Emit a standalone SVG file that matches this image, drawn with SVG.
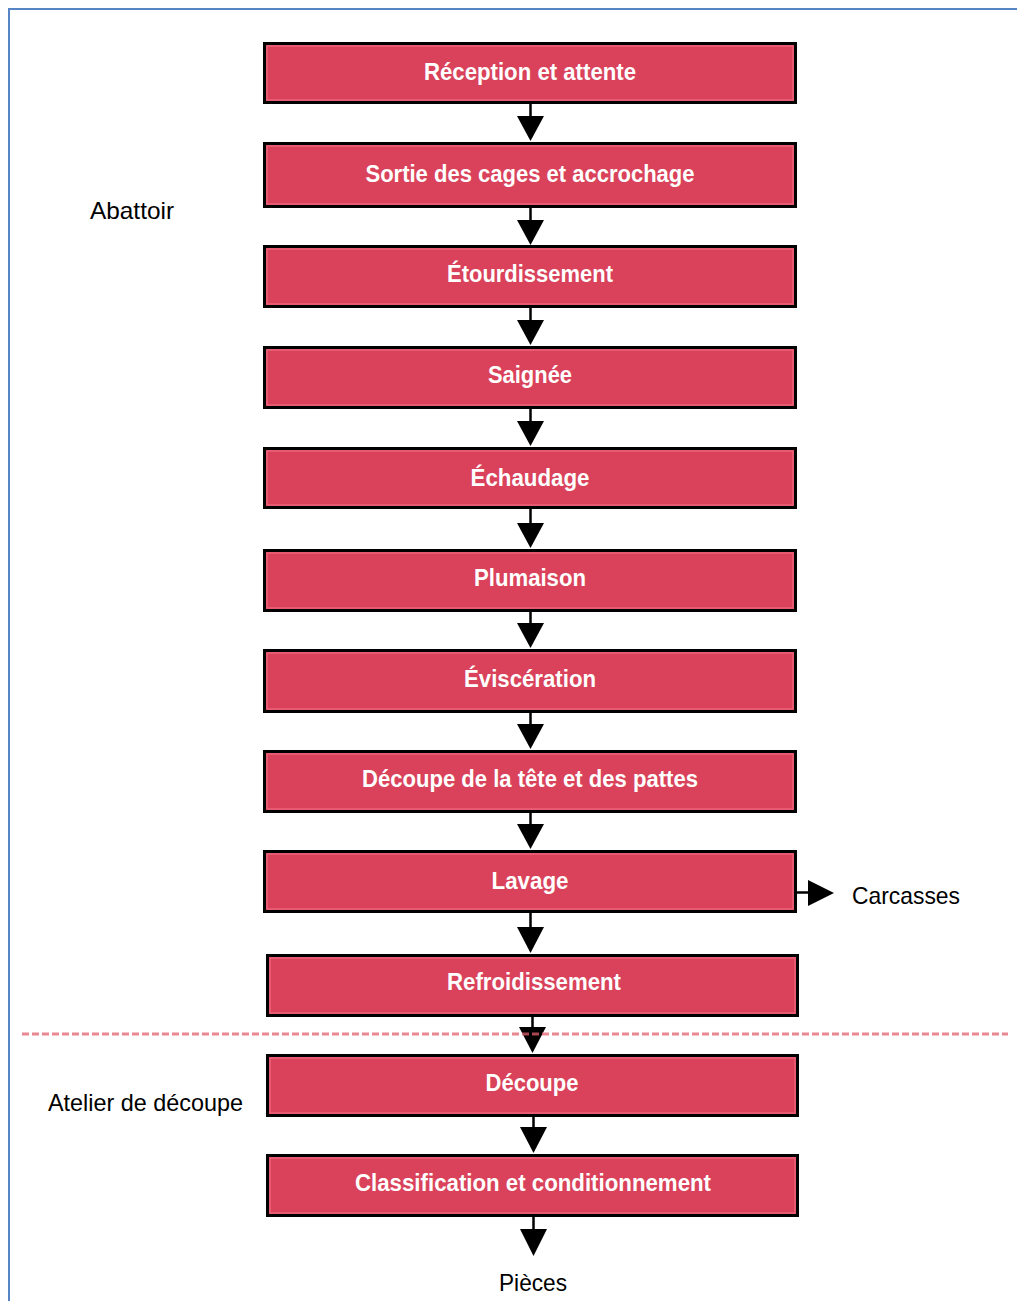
<svg xmlns="http://www.w3.org/2000/svg" width="1017" height="1301" viewBox="0 0 1017 1301">
  <style>
    .box { fill: #D9425A; stroke: #000; stroke-width: 3; }
    .inner { fill: none; stroke: #EB6379; stroke-width: 1.5; }
    .lbl { font-family: "Liberation Sans", Arial, sans-serif; font-weight: bold; font-size: 23px; fill: #fff; text-anchor: middle; }
    .side { font-family: "Liberation Sans", Arial, sans-serif; font-size: 24px; fill: #000; }
    .flow { stroke: #000; stroke-width: 2.5; fill: none; }
    .head { fill: #000; }
  </style>

  <rect x="0" y="0" width="1017" height="1301" fill="#fff"/>
  <!-- page frame -->
  <rect x="9" y="9" width="1030" height="1320" fill="none" stroke="#5685C6" stroke-width="2"/>

  <!-- connectors -->
  <g id="connectors">
    <path class="flow" d="M530.5 103 V118"/>
    <polygon class="head" points="517,116 544,116 530.5,141"/>
    <path class="flow" d="M530.5 207 V222"/>
    <polygon class="head" points="517,220 544,220 530.5,245"/>
    <path class="flow" d="M530.5 307 V322"/>
    <polygon class="head" points="517,320 544,320 530.5,345"/>
    <path class="flow" d="M530.5 408 V423"/>
    <polygon class="head" points="517,421 544,421 530.5,446"/>
    <path class="flow" d="M530.5 508 V525"/>
    <polygon class="head" points="517,523 544,523 530.5,548"/>
    <path class="flow" d="M530.5 611 V625"/>
    <polygon class="head" points="517,623 544,623 530.5,648"/>
    <path class="flow" d="M530.5 712 V726"/>
    <polygon class="head" points="517,724 544,724 530.5,749"/>
    <path class="flow" d="M530.5 812 V826"/>
    <polygon class="head" points="517,824 544,824 530.5,849"/>
    <path class="flow" d="M530.5 912 V930"/>
    <polygon class="head" points="517,927 544,927 530.5,953"/>
    <path class="flow" d="M532.5 1016 V1030"/>
    <polygon class="head" points="519,1027 546,1027 532.5,1053"/>
    <path class="flow" d="M533.5 1116 V1130"/>
    <polygon class="head" points="520,1127 547,1127 533.5,1153"/>
    <path class="flow" d="M533.5 1216 V1232"/>
    <polygon class="head" points="520,1229 547,1229 533.5,1256"/>
    <path class="flow" d="M796 892.5 H810"/>
    <polygon class="head" points="808,880 808,906 834,893"/>
  </g>

  <!-- boundary between slaughterhouse and cutting room -->
  <line x1="22" y1="1034" x2="1008" y2="1034" stroke="#E0606F" stroke-opacity="0.75" stroke-width="3" stroke-dasharray="7 3"/>

  <g id="n1">
    <rect class="box" x="264.5" y="43.5" width="531" height="59"/>
    <rect class="inner" x="267" y="46" width="526" height="54"/>
    <text class="lbl" x="530" y="80" textLength="212" lengthAdjust="spacingAndGlyphs">Réception et attente</text>
  </g>
  <g id="n2">
    <rect class="box" x="264.5" y="143.5" width="531" height="63"/>
    <rect class="inner" x="267" y="146" width="526" height="58"/>
    <text class="lbl" x="530" y="182" textLength="329" lengthAdjust="spacingAndGlyphs">Sortie des cages et accrochage</text>
  </g>
  <g id="n3">
    <rect class="box" x="264.5" y="246.5" width="531" height="60"/>
    <rect class="inner" x="267" y="249" width="526" height="55"/>
    <text class="lbl" x="530" y="282" textLength="166" lengthAdjust="spacingAndGlyphs">Étourdissement</text>
  </g>
  <g id="n4">
    <rect class="box" x="264.5" y="347.5" width="531" height="60"/>
    <rect class="inner" x="267" y="350" width="526" height="55"/>
    <text class="lbl" x="530" y="383" textLength="84" lengthAdjust="spacingAndGlyphs">Saignée</text>
  </g>
  <g id="n5">
    <rect class="box" x="264.5" y="448.5" width="531" height="59"/>
    <rect class="inner" x="267" y="451" width="526" height="54"/>
    <text class="lbl" x="530" y="486" textLength="119" lengthAdjust="spacingAndGlyphs">Échaudage</text>
  </g>
  <g id="n6">
    <rect class="box" x="264.5" y="550.5" width="531" height="60"/>
    <rect class="inner" x="267" y="553" width="526" height="55"/>
    <text class="lbl" x="530" y="586" textLength="112" lengthAdjust="spacingAndGlyphs">Plumaison</text>
  </g>
  <g id="n7">
    <rect class="box" x="264.5" y="650.5" width="531" height="61"/>
    <rect class="inner" x="267" y="653" width="526" height="56"/>
    <text class="lbl" x="530" y="687" textLength="132" lengthAdjust="spacingAndGlyphs">Éviscération</text>
  </g>
  <g id="n8">
    <rect class="box" x="264.5" y="751.5" width="531" height="60"/>
    <rect class="inner" x="267" y="754" width="526" height="55"/>
    <text class="lbl" x="530" y="787" textLength="336" lengthAdjust="spacingAndGlyphs">Découpe de la tête et des pattes</text>
  </g>
  <g id="n9">
    <rect class="box" x="264.5" y="851.5" width="531" height="60"/>
    <rect class="inner" x="267" y="854" width="526" height="55"/>
    <text class="lbl" x="530" y="889" textLength="77" lengthAdjust="spacingAndGlyphs">Lavage</text>
  </g>
  <g id="n10">
    <rect class="box" x="267.5" y="955.5" width="530" height="60"/>
    <rect class="inner" x="270" y="958" width="525" height="55"/>
    <text class="lbl" x="534" y="990" textLength="174" lengthAdjust="spacingAndGlyphs">Refroidissement</text>
  </g>
  <g id="n11">
    <rect class="box" x="267.5" y="1055.5" width="530" height="60"/>
    <rect class="inner" x="270" y="1058" width="525" height="55"/>
    <text class="lbl" x="532" y="1091" textLength="93" lengthAdjust="spacingAndGlyphs">Découpe</text>
  </g>
  <g id="n12">
    <rect class="box" x="267.5" y="1155.5" width="530" height="60"/>
    <rect class="inner" x="270" y="1158" width="525" height="55"/>
    <text class="lbl" x="533" y="1191" textLength="356" lengthAdjust="spacingAndGlyphs">Classification et conditionnement</text>
  </g>

  <g id="labels">
    <text id="abattoir" class="side" x="90" y="219" textLength="84" lengthAdjust="spacingAndGlyphs">Abattoir</text>
    <text id="atelier" class="side" x="48" y="1111" textLength="195" lengthAdjust="spacingAndGlyphs">Atelier de découpe</text>
    <text id="carcasses" class="side" x="852" y="904" textLength="108" lengthAdjust="spacingAndGlyphs">Carcasses</text>
    <text id="pieces" class="side" x="499" y="1291" textLength="68" lengthAdjust="spacingAndGlyphs">Pièces</text>
  </g>
</svg>
